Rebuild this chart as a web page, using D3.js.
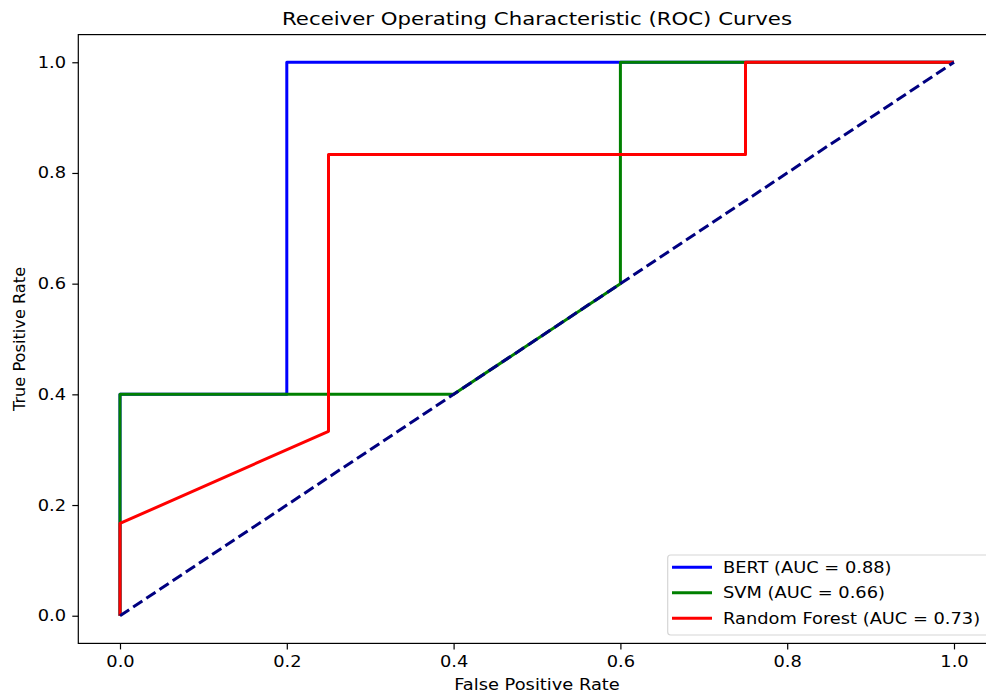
<!DOCTYPE html>
<html>
<head>
<meta charset="utf-8">
<script src="https://cdn.jsdelivr.net/npm/d3@7"></script>
<style>
  body { margin: 0; background: #fff; overflow: hidden; }
  svg text { font-family: "DejaVu Sans", sans-serif; fill: #000; }
</style>
</head>
<body>
<div id="chart"></div>
<script>
// ROC curve points
var bertFpr = [0, 0, 0.2, 0.2, 1];
var bertTpr = [0, 0.4, 0.4, 1, 1];
var svmFpr = [0, 0, 0.4, 0.6, 0.6, 1];
var svmTpr = [0, 0.4, 0.4, 0.6, 1, 1];
var rfFpr = [0, 0, 0.25, 0.25, 0.75, 0.75, 1];
var rfTpr = [0, 0.1667, 0.3333, 0.8333, 0.8333, 1, 1];
var chanceLine = [0, 1];

var seriesNames = ["BERT (AUC = 0.88)", "SVM (AUC = 0.66)", "Random Forest (AUC = 0.73)"];
var seriesColors = ["#0000ff", "#008000", "#ff0000"];
var tickValues = [0, 0.2, 0.4, 0.6, 0.8, 1.0];

var width = 986, height = 695;
// axes box (matplotlib style, 5% data margins); the right side runs past the window
var margin = {top: 34.6, left: 78.3, right: 995.7, bottom: 643.4};
// the picture is a little wider than tall, so text gets stretched sideways
var sx = 1.15;
var fontSize = 15.5;

var svg = d3.select("#chart").append("svg")
    .attr("width", width)
    .attr("height", height);

var x = d3.scaleLinear().domain([-0.05, 1.05]).range([margin.left, margin.right]);
var y = d3.scaleLinear().domain([-0.05, 1.05]).range([margin.bottom, margin.top]);

var line = d3.line()
    .x(function (d) { return x(d[0]); })
    .y(function (d) { return y(d[1]); });

function zip(a, b) {
    return a.map(function (v, i) { return [v, b[i]]; });
}

var curves = [zip(bertFpr, bertTpr), zip(svmFpr, svmTpr), zip(rfFpr, rfTpr)];

var plot = svg.append("g");

curves.forEach(function (pts, i) {
    plot.append("path")
        .attr("d", line(pts))
        .attr("fill", "none")
        .attr("stroke", seriesColors[i])
        .attr("stroke-width", 3)
        .attr("stroke-linejoin", "round");
});

// chance diagonal
plot.append("path")
    .attr("d", line(zip(chanceLine, chanceLine)))
    .attr("fill", "none")
    .attr("stroke", "#000080")
    .attr("stroke-width", 3)
    .attr("stroke-dasharray", "11,4.8");

// axes frame
svg.append("rect")
    .attr("x", margin.left)
    .attr("y", margin.top)
    .attr("width", margin.right - margin.left)
    .attr("height", margin.bottom - margin.top)
    .attr("fill", "none")
    .attr("stroke", "#000")
    .attr("stroke-width", 1.2);

var fmt = d3.format(".1f");

var xAxis = svg.append("g")
    .attr("transform", "translate(0," + margin.bottom + ")")
    .call(d3.axisBottom(x).tickValues(tickValues).tickFormat(fmt).tickSize(6).tickPadding(7));
var yAxis = svg.append("g")
    .attr("transform", "translate(" + margin.left + ",0)")
    .call(d3.axisLeft(y).tickValues(tickValues).tickFormat(fmt).tickSize(6).tickPadding(6.3));

[xAxis, yAxis].forEach(function (g) {
    g.select(".domain").remove();
    g.selectAll(".tick line").attr("stroke", "#000").attr("stroke-width", 1.2);
    g.selectAll(".tick text")
        .style("font-family", "DejaVu Sans, sans-serif")
        .style("font-size", fontSize + "px")
        .attr("fill", "#000");
});
xAxis.selectAll(".tick text").attr("transform", "scale(" + sx + ",1)");
yAxis.selectAll(".tick text")
    .attr("x", -12.3 / sx)
    .attr("transform", "scale(" + sx + ",1)");

var cx = (margin.left + margin.right) / 2;

function stretchedText(px, py, size, str) {
    return svg.append("text")
        .attr("transform", "translate(" + px + "," + py + ") scale(" + sx + ",1)")
        .attr("text-anchor", "middle")
        .style("font-size", size + "px")
        .text(str);
}

stretchedText(cx, 25, 18.5, "Receiver Operating Characteristic (ROC) Curves");
stretchedText(cx, 690, fontSize, "False Positive Rate");

svg.append("text")
    .attr("transform", "translate(25," + ((margin.top + margin.bottom) / 2) + ") rotate(-90)")
    .attr("text-anchor", "middle")
    .style("font-size", "16.2px")
    .text("True Positive Rate");

// legend
var legend = svg.append("g");
legend.append("rect")
    .attr("x", 667.7)
    .attr("y", 555)
    .attr("width", 321)
    .attr("height", 80)
    .attr("rx", 3)
    .attr("fill", "#fff")
    .attr("fill-opacity", 0.8)
    .attr("stroke", "#d6d6d6")
    .attr("stroke-width", 1.2);

var legendRows = legend.selectAll("g.row")
    .data(seriesNames)
    .enter().append("g")
    .attr("class", "row")
    .attr("transform", function (d, i) { return "translate(0," + (567.3 + i * 25.5) + ")"; });

legendRows.append("line")
    .attr("x1", 672).attr("x2", 712)
    .attr("y1", 0).attr("y2", 0)
    .attr("stroke", function (d, i) { return seriesColors[i]; })
    .attr("stroke-width", 3);

legendRows.append("text")
    .attr("transform", "translate(723,5.5) scale(" + sx + ",1)")
    .style("font-size", fontSize + "px")
    .text(function (d) { return d; });
</script>
</body>
</html>
